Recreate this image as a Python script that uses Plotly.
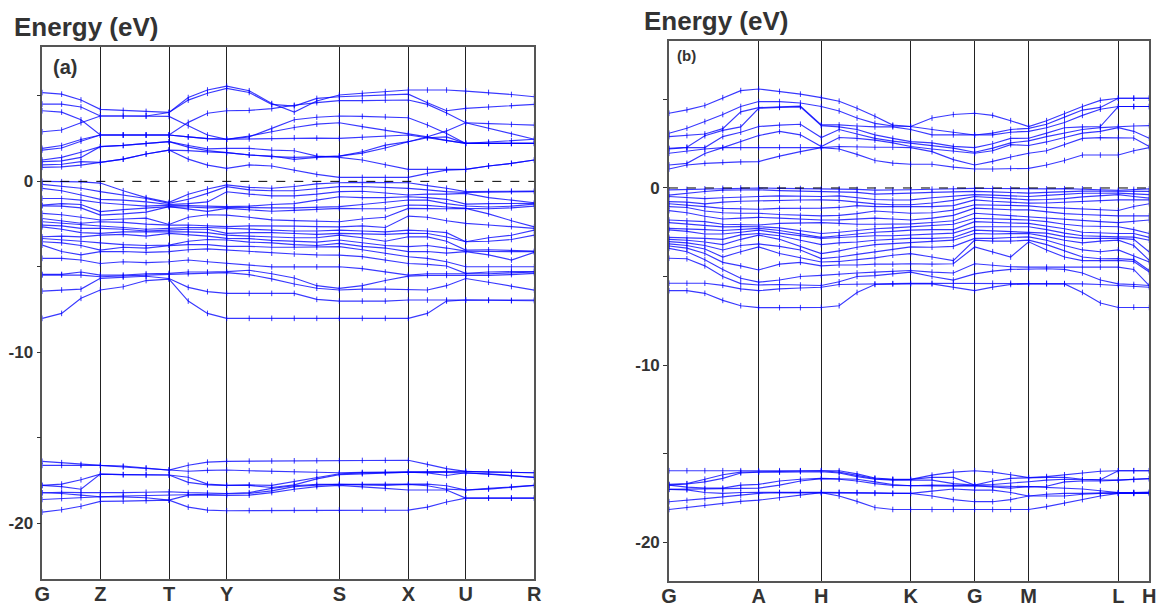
import numpy as np
import plotly.graph_objects as go

# ---------------- k-path data ----------------
klabels_a = ["G", "Z", "T", "Y", "S", "X", "U", "R"]
kdist_a = [0.0, 0.580, 1.267, 1.844, 2.970, 3.660, 4.234, 4.920]
ksteps_a = [3, 3, 3, 5, 3, 3, 3]

klabels_b = ["G", "A", "H", "K", "G", "M", "L", "H"]
kdist_b = [0.0, 0.897, 1.523, 2.417, 3.057, 3.597, 4.493, 4.803]
ksteps_b = [5, 3, 5, 3, 3, 5, 2]

# ---------------- panel (a) bands (eV) ----------------
# conduction bands, one row per band (24 k-points)
cond_a = [
    [5.19, 5.10, 4.76, 4.21, 4.15, 4.09, 4.03, 4.90, 5.34, 5.57, 5.30, 4.55, 4.05, 4.70, 5.05, 5.15, 5.25, 5.34, 5.34, 5.34, 5.28, 5.20, 5.08, 4.95],
    [4.52, 4.52, 4.35, 3.82, 3.82, 3.82, 4.03, 4.75, 5.15, 5.44, 5.20, 4.50, 4.40, 4.85, 4.95, 5.00, 5.05, 5.10, 4.60, 4.13, 4.27, 4.35, 4.42, 4.50],
    [4.13, 4.05, 3.60, 2.71, 2.71, 2.71, 2.71, 3.45, 3.98, 4.13, 4.15, 4.25, 4.45, 4.60, 4.72, 4.72, 4.75, 4.76, 4.50, 4.00, 3.43, 3.10, 2.75, 2.46],
    [2.90, 3.00, 3.43, 3.82, 3.82, 3.82, 3.80, 3.25, 2.71, 2.46, 2.60, 3.10, 3.60, 3.75, 3.82, 3.80, 3.78, 3.72, 3.30, 2.80, 2.22, 2.22, 2.22, 2.22],
    [1.93, 2.10, 2.45, 2.71, 2.71, 2.71, 2.71, 2.60, 2.50, 2.46, 2.65, 2.90, 3.15, 3.35, 3.43, 3.20, 3.00, 2.81, 2.60, 2.40, 2.22, 2.30, 2.38, 2.46],
    [1.83, 1.95, 2.35, 2.71, 2.71, 2.71, 2.71, 2.60, 2.50, 2.46, 2.48, 2.52, 2.55, 2.53, 2.51, 2.58, 2.65, 2.71, 2.55, 2.40, 2.22, 2.22, 2.22, 2.22],
    [1.25, 1.40, 1.70, 2.03, 2.10, 2.20, 2.32, 2.10, 1.90, 1.93, 1.93, 1.83, 1.79, 1.48, 1.40, 1.25, 0.96, 0.70, 0.70, 0.70, 0.70, 0.90, 1.05, 1.25],
    [1.15, 1.20, 1.40, 2.03, 2.10, 2.20, 2.32, 2.00, 1.80, 1.68, 1.54, 1.48, 1.29, 1.40, 1.48, 1.73, 2.12, 2.32, 2.61, 2.95, 3.43, 3.38, 3.33, 3.29],
    [0.82, 0.85, 0.95, 1.11, 1.30, 1.60, 1.83, 1.30, 0.95, 0.76, 0.96, 0.90, 0.66, 0.41, 0.23, 0.23, 0.23, 0.23, 0.47, 0.66, 0.70, 0.90, 1.05, 1.25],
    [0.96, 1.00, 1.15, 1.11, 1.30, 1.60, 1.83, 1.80, 1.72, 1.68, 1.55, 1.45, 1.40, 1.45, 1.48, 1.65, 1.95, 2.32, 2.55, 2.60, 2.22, 2.22, 2.22, 2.22],
]

# valence bands, one column per k-point (20 energies each)
val_a_cols = [
    [0.0, -0.18, -0.41, -1.0, -1.39, -1.43, -1.87, -2.17, -2.36, -2.56, -2.66, -3.24, -3.34, -3.53, -3.73, -4.5, -5.44, -5.48, -6.42, -8.01],
    [-0.02, -0.28, -0.55, -1.0, -1.30, -1.45, -1.95, -2.30, -2.45, -2.60, -2.80, -3.20, -3.40, -3.60, -4.10, -4.50, -5.44, -5.48, -6.35, -7.72],
    [-0.03, -0.40, -0.80, -1.10, -1.35, -1.55, -2.10, -2.45, -2.55, -2.75, -3.00, -3.25, -3.50, -3.75, -4.30, -4.60, -5.30, -5.48, -6.30, -6.84],
    [-0.10, -0.60, -1.05, -1.25, -1.77, -1.97, -2.26, -2.36, -2.61, -2.75, -3.04, -3.14, -3.60, -4.02, -4.11, -4.80, -5.48, -5.58, -5.67, -6.35],
    [-0.55, -0.80, -1.10, -1.35, -1.65, -1.90, -2.20, -2.40, -2.70, -2.80, -2.95, -3.10, -3.70, -3.85, -4.10, -4.70, -5.48, -5.55, -5.60, -6.16],
    [-0.95, -1.00, -1.20, -1.45, -1.55, -1.80, -2.15, -2.50, -2.80, -2.90, -2.95, -3.20, -3.75, -3.90, -4.15, -4.75, -5.40, -5.48, -5.55, -5.80],
    [-1.23, -1.29, -1.35, -1.39, -1.48, -1.48, -2.52, -2.56, -2.75, -2.85, -2.95, -3.04, -3.73, -3.76, -4.11, -4.70, -5.38, -5.44, -5.68, -5.72],
    [-0.75, -1.05, -1.30, -1.40, -1.50, -1.60, -2.10, -2.55, -2.70, -2.80, -2.95, -3.10, -3.50, -3.70, -4.00, -4.60, -5.30, -5.40, -6.20, -7.00],
    [-0.45, -0.70, -1.20, -1.45, -1.55, -1.75, -1.95, -2.62, -2.70, -2.80, -3.00, -3.20, -3.40, -3.70, -3.95, -4.70, -5.30, -5.35, -6.45, -7.72],
    [-0.21, -0.31, -0.61, -1.48, -1.52, -1.58, -1.97, -2.65, -2.75, -3.04, -3.14, -3.33, -3.43, -3.80, -4.02, -4.80, -5.28, -5.34, -6.55, -8.01],
    [-0.35, -0.50, -0.75, -1.45, -1.55, -1.65, -2.10, -2.60, -2.80, -3.00, -3.20, -3.35, -3.55, -3.80, -4.10, -4.90, -5.20, -5.45, -6.55, -8.01],
    [-0.40, -0.55, -0.85, -1.35, -1.55, -1.75, -2.25, -2.60, -2.85, -3.00, -3.25, -3.45, -3.60, -3.85, -4.20, -5.00, -5.40, -5.70, -6.55, -8.01],
    [-0.30, -0.55, -0.85, -1.30, -1.55, -1.70, -2.30, -2.62, -2.90, -3.05, -3.30, -3.50, -3.70, -3.85, -4.25, -5.00, -5.65, -6.00, -6.55, -8.01],
    [-0.15, -0.45, -0.75, -1.10, -1.50, -1.65, -2.35, -2.65, -2.90, -3.10, -3.30, -3.55, -3.75, -3.85, -4.30, -5.00, -6.10, -6.25, -6.90, -8.01],
    [-0.08, -0.31, -0.60, -0.90, -1.48, -1.58, -2.36, -2.66, -2.85, -3.04, -3.14, -3.43, -3.63, -3.82, -4.31, -4.99, -6.26, -6.35, -7.00, -8.01],
    [-0.06, -0.30, -0.58, -0.95, -1.35, -1.60, -2.20, -2.60, -2.90, -3.05, -3.30, -3.60, -3.80, -4.00, -4.40, -5.10, -6.10, -6.30, -7.00, -8.01],
    [-0.06, -0.35, -0.68, -0.95, -1.20, -1.60, -2.10, -2.70, -2.95, -3.10, -3.50, -3.75, -3.90, -4.20, -4.60, -5.30, -5.80, -6.30, -7.00, -8.01],
    [-0.08, -0.41, -0.80, -0.90, -1.09, -1.38, -1.58, -2.03, -2.85, -3.04, -3.24, -3.82, -4.11, -4.41, -4.80, -5.48, -5.54, -6.35, -6.94, -8.01],
    [-0.25, -0.50, -0.75, -0.95, -1.10, -1.40, -1.60, -2.10, -2.90, -3.05, -3.25, -3.75, -4.10, -4.50, -4.85, -5.40, -5.50, -6.35, -6.94, -7.72],
    [-0.40, -0.60, -0.75, -1.05, -1.30, -1.50, -1.60, -2.30, -3.00, -3.25, -3.50, -3.90, -4.20, -4.70, -4.95, -5.40, -5.50, -6.10, -6.94, -7.00],
    [-0.60, -0.65, -0.70, -1.33, -1.44, -1.58, -1.58, -2.46, -3.53, -3.53, -4.02, -4.08, -4.11, -4.99, -5.38, -5.42, -5.48, -5.68, -6.94, -6.94],
    [-0.58, -0.62, -0.95, -1.30, -1.50, -1.60, -1.90, -2.55, -3.30, -3.50, -4.00, -4.10, -4.30, -5.00, -5.30, -5.40, -5.50, -5.90, -6.94, -6.96],
    [-0.57, -0.60, -1.10, -1.28, -1.45, -1.55, -2.30, -2.65, -3.15, -3.40, -4.05, -4.12, -4.60, -5.00, -5.28, -5.35, -5.45, -6.15, -6.96, -6.98],
    [-0.57, -0.60, -1.25, -1.29, -1.33, -1.45, -2.66, -2.75, -2.85, -3.14, -4.08, -4.11, -4.15, -4.99, -5.28, -5.30, -5.38, -6.36, -6.94, -6.98],
]

# semicore bands, one column per k-point (8 energies each)
deep_a_cols = [
    [-16.37, -16.61, -17.78, -17.78, -18.21, -18.21, -18.60, -19.34],
    [-16.45, -16.61, -17.70, -17.85, -18.18, -18.25, -18.55, -19.20],
    [-16.55, -16.61, -17.45, -18.00, -18.20, -18.35, -18.50, -19.00],
    [-16.61, -16.61, -17.12, -17.12, -18.21, -18.44, -18.44, -18.71],
    [-16.65, -16.70, -17.15, -17.15, -18.20, -18.40, -18.45, -18.70],
    [-16.75, -16.80, -17.15, -17.17, -18.18, -18.38, -18.50, -18.68],
    [-16.88, -16.88, -17.17, -17.17, -18.15, -18.35, -18.64, -18.64],
    [-16.60, -16.95, -17.30, -17.60, -18.20, -18.30, -18.35, -19.05],
    [-16.42, -16.90, -17.70, -17.75, -18.22, -18.30, -18.35, -19.22],
    [-16.37, -16.88, -17.78, -17.78, -18.25, -18.30, -18.37, -19.26],
    [-16.36, -16.92, -17.75, -17.78, -18.20, -18.25, -18.35, -19.25],
    [-16.35, -16.95, -17.78, -17.90, -17.95, -18.10, -18.20, -19.24],
    [-16.34, -16.98, -17.55, -17.75, -17.80, -17.85, -18.00, -19.23],
    [-16.33, -17.00, -17.30, -17.40, -17.72, -17.76, -17.85, -19.22],
    [-16.33, -17.04, -17.10, -17.15, -17.72, -17.72, -17.78, -19.22],
    [-16.32, -17.02, -17.05, -17.10, -17.72, -17.75, -17.85, -19.22],
    [-16.31, -17.00, -17.02, -17.05, -17.72, -17.78, -17.95, -19.22],
    [-16.31, -17.00, -17.00, -17.00, -17.72, -17.72, -18.05, -19.22],
    [-16.55, -16.98, -17.00, -17.05, -17.70, -17.80, -18.05, -19.05],
    [-16.80, -16.97, -17.02, -17.20, -17.80, -18.00, -18.05, -18.75],
    [-16.96, -16.96, -17.04, -17.04, -18.05, -18.05, -18.52, -18.52],
    [-17.00, -17.00, -17.10, -17.12, -17.95, -18.00, -18.52, -18.52],
    [-17.02, -17.02, -17.20, -17.22, -17.85, -17.90, -18.52, -18.52],
    [-17.04, -17.04, -17.31, -17.31, -17.78, -17.78, -18.52, -18.52],
]

# ---------------- panel (b) bands (eV), one column per k-point ----------------
cond_b_cols = [
    [4.22, 3.09, 2.90, 2.24, 2.20, 1.96, 1.30, 1.07],
    [4.41, 3.37, 2.96, 2.30, 2.28, 2.10, 1.39, 1.30],
    [4.66, 3.75, 3.05, 2.95, 2.28, 2.20, 1.95, 1.39],
    [5.10, 4.15, 3.35, 3.25, 2.90, 2.28, 2.28, 1.45],
    [5.50, 4.60, 4.30, 3.45, 3.15, 2.60, 2.28, 1.47],
    [5.59, 4.88, 4.54, 4.50, 3.47, 2.96, 2.28, 1.49],
    [5.45, 4.88, 4.58, 4.55, 3.55, 3.20, 2.30, 1.80],
    [5.30, 4.80, 4.62, 4.58, 3.60, 3.00, 2.32, 2.05],
    [5.10, 4.60, 3.56, 3.52, 2.85, 2.34, 2.28, 2.28],
    [4.90, 4.35, 3.56, 3.45, 3.30, 2.85, 2.34, 2.20],
    [4.50, 3.95, 3.50, 3.30, 3.05, 2.80, 2.30, 1.90],
    [4.05, 3.65, 3.45, 3.00, 2.80, 2.70, 2.30, 1.55],
    [3.55, 3.50, 3.45, 2.80, 2.65, 2.55, 2.30, 1.40],
    [3.47, 3.47, 3.30, 2.62, 2.52, 2.34, 2.28, 1.34],
    [3.95, 3.30, 3.00, 2.55, 2.40, 2.20, 2.05, 1.34],
    [4.15, 3.15, 3.00, 2.35, 2.25, 2.10, 1.60, 1.18],
    [4.22, 2.99, 2.99, 2.28, 2.02, 1.96, 1.30, 1.07],
    [4.10, 3.10, 3.00, 2.50, 2.25, 2.10, 1.50, 1.07],
    [3.80, 3.30, 3.15, 2.80, 2.55, 2.45, 1.75, 1.11],
    [3.47, 3.37, 3.20, 2.81, 2.66, 2.40, 1.96, 1.11],
    [3.80, 3.60, 3.40, 3.10, 2.90, 2.60, 2.10, 1.30],
    [4.20, 4.00, 3.70, 3.40, 3.10, 2.85, 2.45, 1.55],
    [4.60, 4.40, 4.10, 3.45, 3.30, 3.10, 2.80, 1.86],
    [4.95, 4.55, 4.45, 3.47, 3.41, 3.20, 2.84, 1.86],
    [5.07, 5.07, 4.60, 4.60, 3.47, 3.41, 2.84, 1.86],
    [5.07, 5.07, 4.60, 4.60, 3.50, 3.20, 2.82, 2.10],
    [5.07, 5.07, 4.60, 4.60, 3.52, 2.81, 2.34, 2.28],
]

val_b_cols = [
    [-0.11, -0.40, -0.48, -0.77, -0.89, -1.05, -1.28, -1.81, -1.96, -2.28, -2.37, -2.79, -2.90, -3.03, -3.16, -3.28, -3.41, -3.97, -5.38, -5.80],
    [-0.08, -0.28, -0.55, -0.80, -0.95, -1.10, -1.40, -1.85, -2.05, -2.30, -2.45, -2.80, -2.95, -3.10, -3.25, -3.40, -3.60, -4.00, -5.38, -5.80],
    [-0.05, -0.20, -0.60, -0.90, -1.05, -1.30, -1.60, -1.90, -2.15, -2.35, -2.60, -2.85, -3.05, -3.25, -3.45, -3.70, -4.05, -4.40, -5.38, -5.95],
    [-0.02, -0.12, -0.55, -0.80, -1.15, -1.40, -1.75, -2.05, -2.20, -2.40, -2.60, -2.90, -3.20, -3.50, -3.90, -4.20, -4.60, -5.00, -5.50, -6.35],
    [0.00, -0.10, -0.50, -0.75, -1.18, -1.43, -1.70, -2.08, -2.18, -2.33, -2.50, -2.65, -2.90, -3.25, -3.60, -4.40, -5.10, -5.40, -5.70, -6.65],
    [0.00, -0.10, -0.48, -0.72, -1.20, -1.43, -1.66, -2.09, -2.19, -2.28, -2.38, -2.57, -2.66, -3.16, -3.33, -4.63, -5.32, -5.48, -5.80, -6.76],
    [-0.02, -0.15, -0.45, -0.70, -1.15, -1.50, -1.70, -2.00, -2.25, -2.40, -2.55, -2.70, -2.90, -3.30, -3.70, -4.30, -5.20, -5.45, -5.70, -6.76],
    [-0.03, -0.17, -0.47, -0.68, -1.15, -1.55, -1.75, -1.98, -2.40, -2.60, -2.70, -2.95, -3.30, -3.50, -3.95, -4.20, -5.00, -5.48, -5.65, -6.76],
    [-0.05, -0.19, -0.48, -0.67, -1.14, -1.58, -1.81, -1.96, -2.57, -2.79, -2.85, -3.20, -3.71, -3.99, -4.18, -4.40, -4.94, -5.51, -5.61, -6.75],
    [-0.05, -0.20, -0.45, -0.70, -1.10, -1.55, -1.80, -2.00, -2.50, -2.70, -2.80, -3.10, -3.55, -3.90, -4.15, -4.35, -4.85, -5.30, -5.45, -6.65],
    [-0.08, -0.25, -0.55, -0.80, -1.00, -1.45, -1.75, -2.05, -2.40, -2.60, -2.75, -3.05, -3.35, -3.75, -4.05, -4.35, -4.80, -5.00, -5.42, -5.90],
    [-0.12, -0.35, -0.65, -0.90, -1.05, -1.30, -1.70, -2.05, -2.30, -2.50, -2.70, -2.95, -3.20, -3.60, -3.95, -4.30, -4.75, -4.95, -5.42, -5.45],
    [-0.12, -0.30, -0.68, -0.95, -1.05, -1.35, -1.75, -2.05, -2.25, -2.45, -2.70, -2.90, -3.15, -3.45, -3.80, -4.30, -4.70, -4.85, -5.40, -5.42],
    [-0.10, -0.29, -0.67, -0.95, -1.05, -1.43, -1.81, -2.03, -2.19, -2.38, -2.66, -2.85, -3.10, -3.33, -3.71, -4.28, -4.66, -4.75, -5.38, -5.42],
    [-0.07, -0.25, -0.55, -0.85, -1.05, -1.40, -1.70, -1.95, -2.15, -2.35, -2.60, -2.85, -3.00, -3.35, -3.90, -4.30, -4.75, -5.00, -5.38, -5.42],
    [-0.04, -0.20, -0.45, -0.70, -1.00, -1.25, -1.55, -1.85, -2.05, -2.35, -2.55, -2.80, -2.95, -3.30, -4.10, -4.28, -4.80, -5.20, -5.38, -5.60],
    [-0.02, -0.19, -0.38, -0.48, -0.67, -0.95, -1.14, -1.43, -1.71, -1.90, -2.19, -2.38, -2.57, -2.85, -2.95, -3.33, -4.28, -4.85, -5.38, -5.80],
    [-0.03, -0.22, -0.40, -0.55, -0.75, -0.98, -1.20, -1.50, -1.75, -1.95, -2.20, -2.42, -2.60, -2.85, -3.00, -3.60, -4.35, -4.70, -5.38, -5.60],
    [-0.05, -0.26, -0.45, -0.62, -0.82, -1.00, -1.23, -1.56, -1.78, -1.98, -2.20, -2.45, -2.58, -2.80, -3.00, -3.90, -4.45, -4.60, -5.38, -5.45],
    [-0.06, -0.29, -0.48, -0.67, -0.86, -1.01, -1.24, -1.62, -1.81, -2.00, -2.19, -2.47, -2.57, -2.76, -2.95, -3.04, -4.47, -4.56, -5.38, -5.42],
    [-0.05, -0.25, -0.42, -0.65, -0.85, -1.10, -1.35, -1.70, -1.90, -2.15, -2.35, -2.55, -2.75, -2.95, -3.20, -3.50, -4.47, -4.56, -5.38, -5.42],
    [-0.04, -0.20, -0.35, -0.60, -0.80, -1.15, -1.45, -1.80, -2.05, -2.30, -2.55, -2.75, -2.95, -3.25, -3.55, -3.90, -4.47, -4.60, -5.40, -5.42],
    [-0.05, -0.18, -0.30, -0.50, -0.75, -1.20, -1.50, -1.85, -2.15, -2.50, -2.70, -2.85, -3.10, -3.50, -3.90, -4.10, -4.47, -4.80, -5.42, -5.90],
    [-0.10, -0.18, -0.30, -0.42, -0.70, -1.25, -1.55, -1.90, -2.18, -2.55, -2.75, -2.85, -3.00, -3.60, -4.00, -4.10, -4.47, -5.20, -5.45, -6.50],
    [-0.13, -0.19, -0.29, -0.38, -0.67, -1.27, -1.58, -1.96, -2.19, -2.57, -2.76, -2.85, -2.95, -3.50, -3.99, -4.09, -4.47, -5.42, -5.51, -6.75],
    [-0.08, -0.19, -0.33, -0.48, -0.67, -1.05, -1.58, -1.88, -2.35, -2.57, -2.78, -2.90, -3.25, -3.85, -4.05, -4.15, -4.60, -5.45, -5.55, -6.73],
    [-0.05, -0.19, -0.38, -0.57, -0.67, -0.89, -1.58, -1.81, -2.57, -2.79, -2.95, -3.62, -4.09, -4.18, -4.66, -4.75, -5.51, -5.51, -5.61, -6.75],
]

deep_b_cols = [
    [-15.97, -16.74, -16.78, -16.78, -17.02, -17.02, -17.72, -18.16],
    [-15.97, -16.70, -16.72, -16.90, -17.00, -17.05, -17.65, -18.05],
    [-15.97, -16.45, -16.60, -16.95, -17.00, -17.20, -17.55, -17.92],
    [-15.97, -16.20, -16.40, -16.95, -17.00, -17.25, -17.45, -17.80],
    [-15.97, -16.05, -16.10, -16.78, -16.95, -17.20, -17.35, -17.70],
    [-15.97, -16.03, -16.05, -16.74, -16.95, -17.21, -17.25, -17.63],
    [-15.97, -16.02, -16.05, -16.55, -16.78, -17.20, -17.21, -17.50],
    [-15.97, -15.98, -16.02, -16.45, -16.55, -17.19, -17.21, -17.35],
    [-15.97, -15.97, -16.03, -16.40, -16.42, -17.19, -17.21, -17.21],
    [-15.97, -16.05, -16.10, -16.42, -16.45, -17.19, -17.21, -17.40],
    [-16.15, -16.25, -16.30, -16.45, -16.55, -17.20, -17.22, -17.70],
    [-16.38, -16.42, -16.45, -16.60, -16.70, -17.22, -17.25, -18.05],
    [-16.45, -16.47, -16.50, -16.75, -16.80, -17.25, -17.25, -18.16],
    [-16.46, -16.46, -16.50, -16.82, -16.82, -17.25, -17.25, -18.16],
    [-16.22, -16.35, -16.50, -16.78, -16.85, -17.12, -17.40, -18.16],
    [-16.05, -16.35, -16.70, -16.80, -16.85, -17.00, -17.60, -18.16],
    [-15.97, -16.78, -16.78, -16.82, -16.82, -17.07, -17.72, -18.16],
    [-16.05, -16.55, -16.75, -16.85, -16.90, -17.07, -17.72, -18.16],
    [-16.20, -16.40, -16.65, -16.85, -16.95, -17.20, -17.60, -18.16],
    [-16.36, -16.36, -16.59, -16.87, -16.87, -17.40, -17.40, -18.16],
    [-16.30, -16.35, -16.50, -16.85, -16.90, -17.30, -17.40, -18.00],
    [-16.20, -16.35, -16.45, -16.60, -16.95, -17.25, -17.40, -17.80],
    [-16.10, -16.45, -16.48, -16.55, -17.00, -17.25, -17.30, -17.60],
    [-16.00, -16.48, -16.50, -16.55, -17.10, -17.22, -17.25, -17.40],
    [-15.97, -15.97, -16.50, -16.50, -17.21, -17.21, -17.25, -17.25],
    [-15.97, -15.97, -16.45, -16.48, -17.20, -17.21, -17.25, -17.25],
    [-15.97, -15.97, -16.42, -16.42, -17.19, -17.19, -17.25, -17.25],
]

yticks_vals = [5, 0, -5, -10, -15, -20]
yticks_text = ["", "0", "", "-10", "", "-20"]


def kpath(dist, steps):
    xs = [dist[0]]
    for i, n in enumerate(steps):
        xs.extend(np.linspace(dist[i], dist[i + 1], n + 1)[1:].tolist())
    return xs


def cols_to_rows(cols):
    return [list(r) for r in zip(*cols)]


BLUE_LINE = "rgba(0,0,255,0.78)"
BLUE_MARK = "rgba(0,0,255,0.85)"


def band_trace(kx, rows, xa, ya):
    xs, ys = [], []
    for r in rows:
        xs += list(kx) + [None]
        ys += list(r) + [None]
    return go.Scatter(
        x=xs, y=ys, mode="lines+markers", xaxis=xa, yaxis=ya,
        line=dict(color=BLUE_LINE, width=1.15),
        marker=dict(symbol="line-ns-open", size=4, line=dict(color=BLUE_MARK, width=1)),
        hoverinfo="skip", showlegend=False,
    )


kx_a = kpath(kdist_a, ksteps_a)
kx_b = kpath(kdist_b, ksteps_b)

fig = go.Figure()
fig.add_trace(band_trace(kx_a, cond_a, "x", "y"))
fig.add_trace(band_trace(kx_a, cols_to_rows(val_a_cols), "x", "y"))
fig.add_trace(band_trace(kx_a, cols_to_rows(deep_a_cols), "x", "y"))
fig.add_trace(band_trace(kx_b, cols_to_rows(cond_b_cols), "x2", "y2"))
fig.add_trace(band_trace(kx_b, cols_to_rows(val_b_cols), "x2", "y2"))
fig.add_trace(band_trace(kx_b, cols_to_rows(deep_b_cols), "x2", "y2"))

TXT = "#333333"
FAM = "Arial, Liberation Sans, sans-serif"
xfont = dict(family=FAM, size=20, color=TXT, weight="bold")
yfont = dict(family=FAM, size=17, color=TXT, weight="bold")


def xax(domain, dist, labels, anchor):
    return dict(domain=domain, range=[dist[0], dist[-1]], tickvals=dist, ticktext=labels,
                showgrid=True, gridcolor="#222222", gridwidth=1, ticks="", zeroline=False,
                showline=True, linecolor="#555555", linewidth=1.5, mirror=True,
                tickfont=xfont, anchor=anchor, ticklabelstandoff=-4, automargin=False)


def yax(domain, rng, anchor):
    return dict(domain=domain, range=rng, tickvals=yticks_vals, ticktext=yticks_text,
                ticks="outside", ticklen=4, tickcolor="#333333", tickwidth=1,
                showgrid=False, zeroline=False, showline=True, linecolor="#555555",
                linewidth=1.5, mirror=True, tickfont=yfont, anchor=anchor, automargin=False)


fig.update_layout(
    width=1159, height=607, autosize=False,
    margin=dict(l=0, r=0, t=0, b=0, autoexpand=False),
    paper_bgcolor="white", plot_bgcolor="white",
    xaxis=xax([0.0365, 0.4610], kdist_a, klabels_a, "y"),
    yaxis=yax([0.0456, 0.9221], [-23.27, 7.84], "x"),
    xaxis2=xax([0.5772, 0.9916], kdist_b, klabels_b, "y2"),
    yaxis2=yax([0.0428, 0.9330], [-22.2, 8.32], "x2"),
    shapes=[
        dict(type="line", xref="x", yref="y", x0=kdist_a[0], x1=kdist_a[-1], y0=0, y1=0,
             line=dict(color="black", width=1, dash="dash")),
        dict(type="line", xref="x2", yref="y2", x0=kdist_b[0], x1=kdist_b[-1], y0=0, y1=0,
             line=dict(color="black", width=1, dash="dash")),
    ],
    annotations=[
        dict(text="Energy (eV)", xref="paper", yref="paper", x=12 / 1159, y=1 - 27 / 607,
             xanchor="left", yanchor="middle", showarrow=False,
             font=dict(family=FAM, size=26, color=TXT, weight="bold")),
        dict(text="Energy (eV)", xref="paper", yref="paper", x=642 / 1159, y=1 - 21 / 607,
             xanchor="left", yanchor="middle", showarrow=False,
             font=dict(family=FAM, size=26, color=TXT, weight="bold")),
        dict(text="(a)", xref="paper", yref="paper", x=51 / 1159, y=1 - 67 / 607,
             xanchor="left", yanchor="middle", showarrow=False,
             font=dict(family=FAM, size=20, color=TXT, weight="bold")),
        dict(text="(b)", xref="paper", yref="paper", x=675 / 1159, y=1 - 55 / 607,
             xanchor="left", yanchor="middle", showarrow=False,
             font=dict(family=FAM, size=15, color=TXT, weight="bold")),
    ],
)

fig.write_html("out.html")
